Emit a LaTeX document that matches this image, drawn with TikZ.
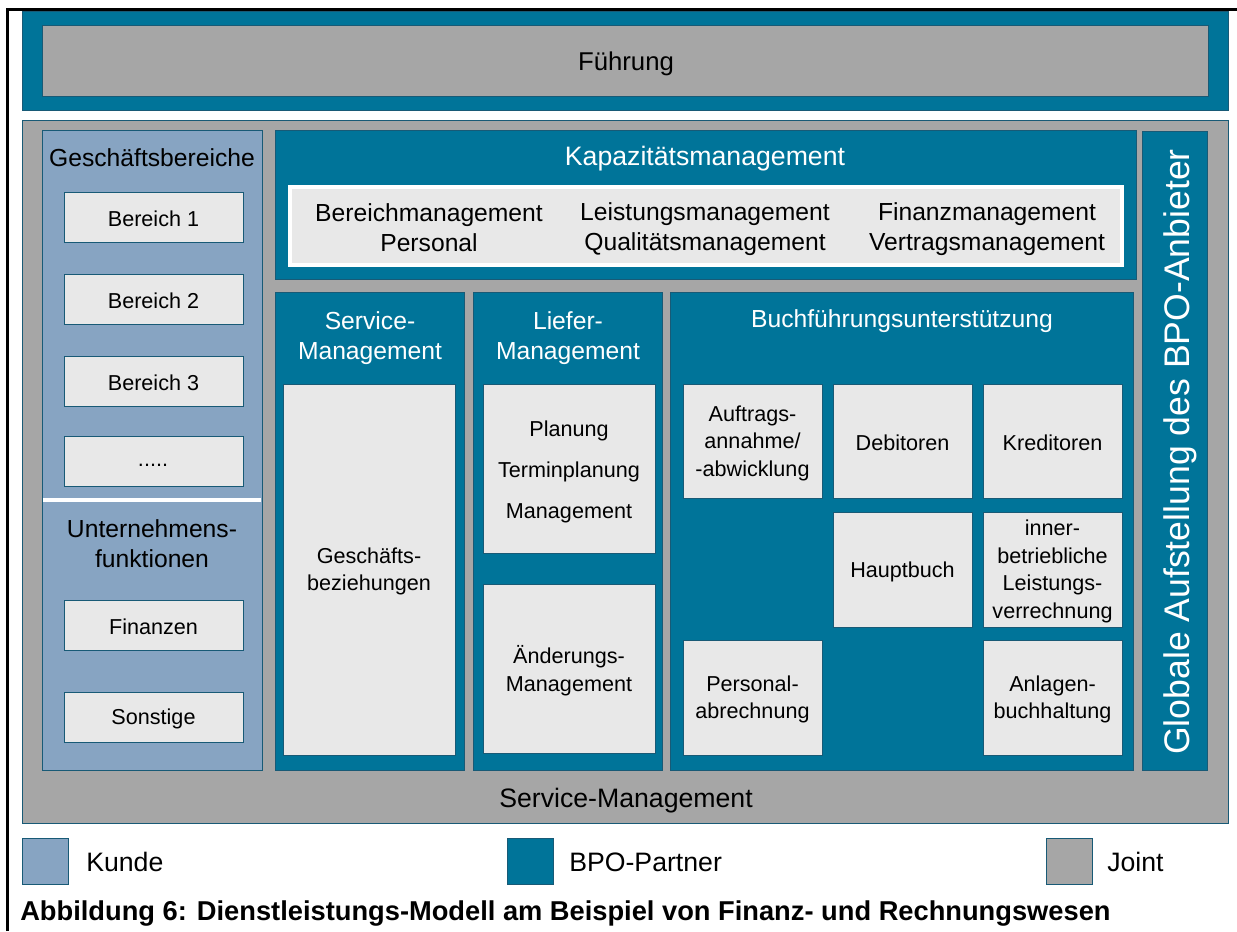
\documentclass[tikz,border=0pt]{standalone}
\usepackage{fontspec}
\setmainfont{Liberation Sans}
\usetikzlibrary{fit}
\definecolor{bpoteal}{RGB}{0,116,153}
\definecolor{jointgray}{RGB}{166,166,166}
\definecolor{kundeblue}{RGB}{135,164,194}
\definecolor{boxgray}{RGB}{232,232,232}
\definecolor{edgeblue}{RGB}{24,90,118}
\begin{document}
\begin{tikzpicture}[x=0.75pt,y=-0.75pt,
  area/.style={draw=edgeblue, line width=0.75pt, inner sep=0pt},
  partner/.style={area, fill=bpoteal},
  joint/.style={area, fill=jointgray},
  kunde/.style={area, fill=kundeblue},
  item/.style={area, fill=boxgray},
  fsmall/.style={font=\fontsize{16.2}{20.6}\selectfont},
  fhead/.style={font=\fontsize{18.5}{22.5}\selectfont},
  fbig/.style={font=\fontsize{20}{24}\selectfont},
  wtext/.style={text=white, align=center, inner sep=0pt},
  btext/.style={text=black, align=center, inner sep=0pt},
  itext/.style={btext, fsmall, yshift=-1.5pt},
]
\useasboundingbox (0,0) rectangle (1237,931);
% outer frame lines
\draw[line width=2.3pt] (7.5,931) -- (7.5,9.5) -- (1237,9.5);

% Fuehrung
\node[partner, fit={(22,12)(1228,110)}] (fuehrungrahmen) {};
\node[joint, fit={(42,26)(1208,96)}] (fuehrung) {};
\node[btext, font=\fontsize{19.3}{23}\selectfont] (fuehrunglabel) at (626,64) {Führung};

% main joint area
\node[joint, fit={(22,120)(1228,823)}] (servicearea) {};
\node[btext, fbig] (servicelabel) at (626,801) {Service-Management};

% Kunde column
\node[kunde, fit={(42,130)(262,770)}] (kunde) {};
\draw[white, line width=3pt] (42.8,500) -- (261.2,500);
\node[btext, fhead] (gbtitle) at (152,158) {Geschäftsbereiche};
\node[item, fit={(64,192)(243,242)}] (b1) {};
\node[itext] (b1l) at (b1) {Bereich 1};
\node[item, fit={(64,274)(243,324)}] (b2) {};
\node[itext] (b2l) at (b2) {Bereich 2};
\node[item, fit={(64,356)(243,406)}] (b3) {};
\node[itext] (b3l) at (b3) {Bereich 3};
\node[item, fit={(64,436)(243,486)}] (b4) {};
\node[itext] (b4l) at (153,463) {.....};
\node[btext, fhead] (uftitle) at (152,544) {Unternehmens-\\funktionen};
\node[item, fit={(64,600)(243,650)}] (finanzen) {};
\node[itext] (finanzenl) at (finanzen) {Finanzen};
\node[item, fit={(64,692)(243,742)}] (sonstige) {};
\node[itext] (sonstigel) at (sonstige) {Sonstige};

% Kapazitaetsmanagement
\node[partner, fit={(275,130)(1136,279)}] (kapa) {};
\node[wtext, fbig] (kapatitle) at (705,159) {Kapazitätsmanagement};
\node[area, draw=white, line width=2.5pt, fill=boxgray, fit={(290,187)(1122,265)}] (kapainner) {};
\node[btext, fhead] (k1) at (429,227.5) {Bereichmanagement\\Personal};
\node[btext, fhead] (k2) at (705,229) {Leistungsmanagement\\Qualitätsmanagement};
\node[btext, fhead] (k3) at (987,229) {Finanzmanagement\\Vertragsmanagement};

% Globale Aufstellung
\node[partner, fit={(1142,131)(1207,770)}] (globale) {};
\node[wtext, rotate=90, font=\fontsize{26.7}{30}\selectfont] (globalelabel) at (1180,452) {Globale Aufstellung des BPO-Anbieter};

% Service-Management column
\node[partner, fit={(275,292)(464,770)}] (svc) {};
\node[wtext, fhead] (svctitle) at (370,338) {Service-\\Management};
\node[item, fit={(283,384)(455,755)}] (gb) {};
\node[itext] (gbl) at (gb) {Geschäfts-\\beziehungen};

% Liefer-Management column
\node[partner, fit={(473,292)(662,770)}] (lief) {};
\node[wtext, fhead] (lieftitle) at (568,338) {Liefer-\\Management};
\node[item, fit={(483,384)(655,553)}] (planung) {};
\node[itext, font=\fontsize{16.2}{30.5}\selectfont] (planungl) at (569,470) {Planung\\Terminplanung\\Management};
\node[item, fit={(483,584)(655,753)}] (aenderung) {};
\node[itext] (aenderungl) at (aenderung) {Änderungs-\\Management};

% Buchfuehrungsunterstuetzung
\node[partner, fit={(670,292)(1133,770)}] (buch) {};
\node[wtext, fhead] (buchtitle) at (902,321) {Buchführungsunterstützung};
\node[item, fit={(683,384)(822,498)}] (auftrag) {};
\node[itext] (auftragl) at (auftrag) {Auftrags-\\annahme/\\-abwicklung};
\node[item, fit={(833,384)(972,498)}] (debitoren) {};
\node[itext] (debitorenl) at (debitoren) {Debitoren};
\node[item, fit={(983,384)(1122,498)}] (kreditoren) {};
\node[itext] (kreditorenl) at (kreditoren) {Kreditoren};
\node[item, fit={(833,512)(972,627)}] (hauptbuch) {};
\node[itext] (hauptbuchl) at (hauptbuch) {Hauptbuch};
\node[item, fit={(983,512)(1122,627)}] (ilv) {};
\node[itext] (ilvl) at (ilv) {inner-\\betriebliche\\Leistungs-\\verrechnung};
\node[item, fit={(683,640)(822,755)}] (personal) {};
\node[itext] (personall) at (personal) {Personal-\\abrechnung};
\node[item, fit={(983,640)(1122,755)}] (anlagen) {};
\node[itext] (anlagenl) at (anlagen) {Anlagen-\\buchhaltung};

% Legend
\node[kunde, fit={(22,838)(68,884)}] (legk) {};
\node[btext, fbig, anchor=west] (legktext) at (86,862) {Kunde};
\node[partner, fit={(507,838)(553,884)}] (legp) {};
\node[btext, fbig, anchor=west] (legptext) at (569,862) {BPO-Partner};
\node[joint, fit={(1046,838)(1092,884)}] (legj) {};
\node[btext, fbig, anchor=west] (legjtext) at (1107,862) {Joint};

% Caption
\node[btext, anchor=west, font=\bfseries\fontsize{20.45}{24}\selectfont] (caption) at (20,913) {Abbildung 6: Dienstleistungs-Modell am Beispiel von Finanz- und Rechnungswesen};
\end{tikzpicture}
\end{document}
